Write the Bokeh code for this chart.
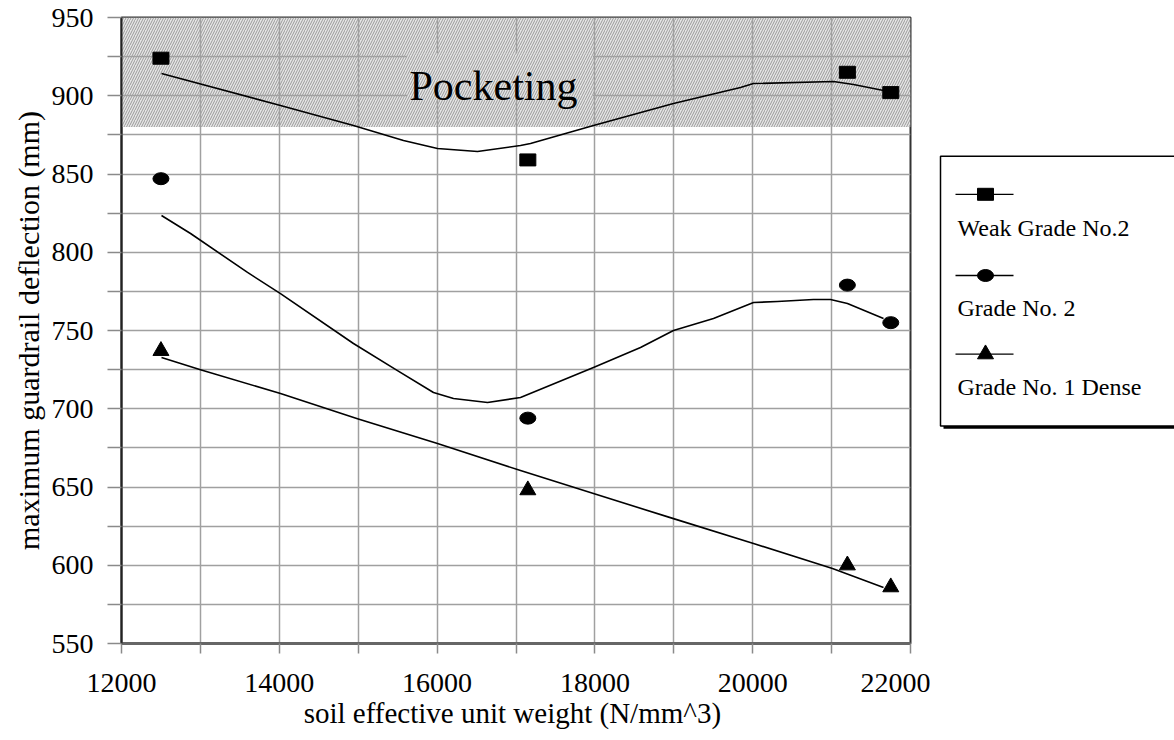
from bokeh.plotting import figure
from bokeh.layouts import row
from bokeh.models import FixedTicker, Range1d
from bokeh.embed import file_html
from bokeh.resources import INLINE
from bokeh.core.properties import value

# ---------------- data ----------------
x_pts = [12500, 17150, 21200, 21750]
weak_grade2 = [924, 859, 915, 902]
grade2 = [847, 694, 779, 755]
grade1_dense = [737, 648, 600, 586]

weak_curve_x = [12507, 14015, 14940, 15574, 16005, 16512, 17057, 17184, 17982, 18996, 19845, 20010, 21024, 21278, 21658]
weak_curve_y = [914.2, 893.8, 881.0, 871.4, 866.3, 864.4, 868.2, 869.5, 881.0, 895.0, 905.3, 907.8, 909.1, 907.2, 903.4]

grade2_curve_x = [12507, 12875, 13597, 14015, 14940, 15498, 15954, 16208, 16639, 17057, 17982, 18578, 18996, 19503, 20010, 20314, 20770, 20986, 21201, 21658]
grade2_curve_y = [823.5, 812.0, 787.1, 773.6, 741.7, 724.4, 710.4, 706.5, 704.0, 707.2, 726.4, 739.1, 750.0, 757.7, 767.9, 768.5, 769.8, 769.8, 767.3, 757.7]

grade1_curve_x = [12507, 13001, 14015, 14991, 16005, 17057, 17982, 18996, 20010, 21011, 21658]
grade1_curve_y = [732.7, 724.9, 709.7, 693.6, 677.8, 660.5, 645.8, 629.8, 613.9, 597.9, 585.8]

series_labels = ["Weak Grade No.2", "Grade No. 2", "Grade No. 1 Dense"]

x_ticks = list(range(12000, 22001, 1000))
y_ticks = list(range(550, 951, 25))

pocket_low, pocket_high = 880, 950
pocket_text = "Pocketing"

FONT = "Liberation Serif"
HATCH = dict(fill_color="#e6e6e6", line_color=None, hatch_pattern="/",
             hatch_color="#999999", hatch_scale=5, hatch_weight=1)

# ---------------- main figure ----------------
p = figure(width=930, height=740,
           x_range=Range1d(12000, 22000), y_range=Range1d(550, 950),
           output_backend="svg", toolbar_location=None,
           min_border_left=121, min_border_right=20,
           min_border_top=17, min_border_bottom=97)

p.background_fill_color = "white"
p.outline_line_color = "#333333"
p.outline_line_width = 2

# pocketing zone (below the grid)
p.quad(left=12000, right=22000, bottom=pocket_low, top=pocket_high, level="image", **HATCH)

# grid
p.xgrid.ticker = FixedTicker(ticks=x_ticks)
p.ygrid.ticker = FixedTicker(ticks=y_ticks)
for g in (p.xgrid, p.ygrid):
    g.grid_line_color = "#a0a0a0"
    g.grid_line_width = 1.5

# text box covering the grid behind the label
p.quad(left=15620, right=17975, bottom=898, top=927, **HATCH)
p.text(x=[15650], y=[906.5], text=[pocket_text], text_font=value(FONT),
       text_font_size="42px", text_color="black", text_baseline="alphabetic",
       text_align="left")

# curves
for cx, cy in ((weak_curve_x, weak_curve_y), (grade2_curve_x, grade2_curve_y),
               (grade1_curve_x, grade1_curve_y)):
    p.line(cx, cy, line_color="black", line_width=1.6, line_join="round")

# markers
p.rect(x=x_pts, y=weak_grade2, width=16, height=12,
       width_units="screen", height_units="screen",
       fill_color="black", line_color="black")
p.ellipse(x=x_pts, y=grade2, width=16, height=12,
          width_units="screen", height_units="screen",
          fill_color="black", line_color="black")
p.scatter(x=x_pts, y=grade1_dense, marker="triangle", size=16,
          fill_color="black", line_color="black")

# axes
p.xaxis.ticker = FixedTicker(ticks=x_ticks)
p.xaxis.major_label_overrides = {t: ("" if (t // 1000) % 2 else str(t)) for t in x_ticks}
p.yaxis.ticker = FixedTicker(ticks=y_ticks)
p.yaxis.major_label_overrides = {t: ("" if t % 50 else str(t)) for t in y_ticks}

p.xaxis.axis_label = "soil effective unit weight  (N/mm^3)"
p.yaxis.axis_label = "maximum guardrail deflection (mm)"

for ax in (p.xaxis, p.yaxis):
    ax.major_label_text_font = FONT
    ax.major_label_text_font_size = "28px"
    ax.major_label_text_color = "black"
    ax.axis_label_text_font = FONT
    ax.axis_label_text_font_style = "normal"
    ax.axis_label_text_color = "black"
    ax.minor_tick_line_color = None
    ax.major_tick_in = 0
    ax.major_tick_line_color = "#8a8a8a"
    ax.major_tick_line_width = 1.5

p.xaxis.axis_label_text_font_size = "29px"
p.yaxis.axis_label_text_font_size = "30px"

p.xaxis.major_tick_out = 10
p.xaxis.major_label_standoff = 20
p.xaxis.axis_label_standoff = 2
p.xaxis.axis_line_color = "#666666"
p.xaxis.axis_line_width = 3

p.yaxis.major_tick_out = 14
p.yaxis.major_label_standoff = 14
p.yaxis.axis_label_standoff = 4
p.yaxis.axis_line_color = "#222222"
p.yaxis.axis_line_width = 2

# ---------------- legend figure ----------------
lf = figure(width=244, height=740, x_range=Range1d(0, 244), y_range=Range1d(740, 0),
            output_backend="svg", toolbar_location=None,
            x_axis_type=None, y_axis_type=None, min_border=0)
lf.grid.visible = False
lf.outline_line_color = None
lf.background_fill_color = "white"

lf.quad(left=13, right=270, top=167, bottom=486, fill_color="black", line_color=None)
lf.quad(left=10, right=270, top=164, bottom=483, fill_color="white",
        line_color="black", line_width=1.5)

rows_y = [209, 305, 398]
label_y = [249, 343, 437]
lf.segment(x0=[25] * 3, x1=[83] * 3, y0=rows_y, y1=rows_y, line_color="black", line_width=1.3)
lf.rect(x=[55], y=[rows_y[0]], width=16, height=12, width_units="screen",
        height_units="screen", fill_color="black", line_color="black")
lf.ellipse(x=[55], y=[rows_y[1]], width=16, height=12, width_units="screen",
           height_units="screen", fill_color="black", line_color="black")
lf.scatter(x=[55], y=[rows_y[2]], marker="triangle", size=16,
           fill_color="black", line_color="black")
lf.text(x=[27] * 3, y=label_y, text=series_labels, text_font=value(FONT),
        text_font_size="24px", text_color="black", text_baseline="middle")

layout = row(p, lf)
open("out.html", "w").write(file_html(layout, INLINE))
